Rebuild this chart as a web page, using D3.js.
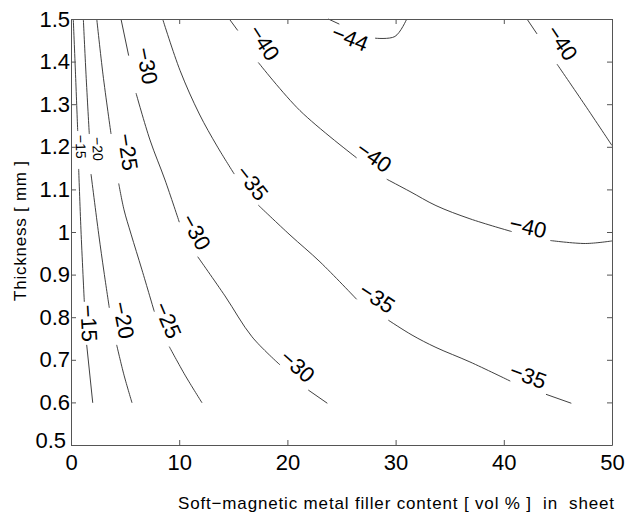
<!DOCTYPE html>
<html>
<head>
<meta charset="utf-8">
<script src="https://cdn.jsdelivr.net/npm/d3@7"></script>
<style>
  body { margin: 0; background: #fff; }
  svg { display: block; font-family: "Liberation Sans", Arial, sans-serif; }
</style>
</head>
<body>
<div class="canvas"></div>
<script>
// axis ticks
const xTicks = [0, 10, 20, 30, 40, 50];
const yTicks = [0.5, 0.6, 0.7, 0.8, 0.9, 1, 1.1, 1.2, 1.3, 1.4, 1.5];

// contour lines: each line is a list of pieces
// (broken where a label sits), points are [filler vol%, thickness mm]
const line15 = [
    [[0.21, 1.5], [0.42, 1.369], [0.62, 1.237]],
    [[0.71, 1.148], [0.92, 1.005], [1.23, 0.836]],
    [[1.45, 0.735], [2.01, 0.599]]
];
const line20 = [
    [[1.14, 1.5], [1.39, 1.369], [1.69, 1.23]],
    [[1.85, 1.136], [2.56, 0.995], [3.05, 0.906], [3.54, 0.822]],
    [[4.22, 0.735], [4.90, 0.664], [5.64, 0.599]]
];
const line25 = [
    [[2.38, 1.5], [2.96, 1.369], [3.70, 1.23]],
    [[4.41, 1.114], [4.90, 1.052], [5.55, 0.995], [6.56, 0.911], [7.70, 0.813]],
    [[9.08, 0.731], [10.54, 0.664], [12.11, 0.599]]
];
const line30 = [
    [[4.62, 1.5], [5.33, 1.414]],
    [[6.01, 1.326], [7.30, 1.216], [8.69, 1.122], [10.01, 1.023]],
    [[11.71, 0.942], [14.23, 0.850], [16.73, 0.754], [19.32, 0.688]],
    [[21.93, 0.629], [23.69, 0.598]]
];
const line35 = [
    [[8.47, 1.5], [10.08, 1.379], [11.86, 1.277], [13.49, 1.202], [15.09, 1.136]],
    [[17.31, 1.063], [20.24, 0.993], [23.01, 0.930], [26.40, 0.842]],
    [[29.33, 0.793], [31.52, 0.758], [33.73, 0.729], [36.87, 0.695], [40.60, 0.650]],
    [[43.90, 0.619], [46.24, 0.598]]
];
const line40a = [
    [[14.63, 1.5], [15.41, 1.473]],
    [[17.31, 1.398], [21.16, 1.285], [26.40, 1.174]],
    [[29.18, 1.124], [31.33, 1.095], [33.73, 1.062], [36.87, 1.031], [40.73, 1.001]],
    [[44.30, 0.980], [47.53, 0.973], [50, 0.979]]
];
const line40b = [
    [[42.14, 1.5], [43.07, 1.465]],
    [[44.92, 1.394], [47.50, 1.298], [50, 1.203]]
];
const line44 = [
    [[23.78, 1.5], [24.80, 1.488]],
    [[28.10, 1.455], [29.94, 1.459], [31.03, 1.5]]
];

// label centres, one per break in the line
const labels15 = [[0.92, 1.20], [1.64, 0.786]];
const labels20 = [[2.47, 1.195], [4.85, 0.793]];
const labels25 = [[5.24, 1.188], [8.94, 0.793]];
const labels30 = [[7.02, 1.39], [11.55, 1.0], [20.93, 0.685]];
const labels35 = [[16.73, 1.115], [28.28, 0.845], [42.24, 0.662]];
const labels40a = [[17.84, 1.444], [28.0, 1.176], [42.24, 1.012]];
const labels40b = [[45.38, 1.444]];
const labels44 = [[25.79, 1.455]];

const contours = [
    {level: -15, pieces: line15, labels: labels15},
    {level: -20, pieces: line20, labels: labels20},
    {level: -25, pieces: line25, labels: labels25},
    {level: -30, pieces: line30, labels: labels30},
    {level: -35, pieces: line35, labels: labels35},
    {level: -40, pieces: line40a, labels: labels40a},
    {level: -40, pieces: line40b, labels: labels40b},
    {level: -44, pieces: line44, labels: labels44}
];

const width = 635, height = 520;
const margin = {top: 19, right: 23, bottom: 75, left: 71};

const svg = d3.select('.canvas')
    .append('svg')
    .attr('width', width)
    .attr('height', height);

const x = d3.scaleLinear().domain([0, 50]).range([margin.left, width - margin.right]);
const y = d3.scaleLinear().domain([0.5, 1.5]).range([height - margin.bottom, margin.top]);

const lineGen = d3.line()
    .x(d => x(d[0]))
    .y(d => y(d[1]))
    .curve(d3.curveCatmullRom);

// contour pieces
const plot = svg.append('g');
contours.forEach(c => {
    plot.selectAll(null)
        .data(c.pieces)
        .enter().append('path')
        .attr('d', lineGen)
        .attr('fill', 'none')
        .attr('stroke', '#2a2a2a')
        .attr('stroke-width', 0.9);

    // labels, turned along the break they sit in
    c.labels.forEach((p, i) => {
        const a = c.pieces[i][c.pieces[i].length - 1];
        const b = c.pieces[i + 1][0];
        const ang = Math.atan2(y(b[1]) - y(a[1]), x(b[0]) - x(a[0])) * 180 / Math.PI;
        const small = c.level > -25 && p[1] > 1.1;
        plot.append('text')
            .attr('transform', `translate(${x(p[0])},${y(p[1])}) rotate(${ang})`)
            .attr('text-anchor', 'middle')
            .attr('dominant-baseline', 'central')
            .attr('font-size', small ? 14 : 22)
            .text('\u2212' + Math.abs(c.level));
    });
});

// axes, ticks inside on all four sides
const axisColor = '#555';
const xAxisGroup = svg.append('g').attr('transform', `translate(0,${y(0.5)})`)
    .call(d3.axisBottom(x).tickValues(xTicks).tickSizeInner(-5).tickSizeOuter(0).tickPadding(9));
const yAxisGroup = svg.append('g').attr('transform', `translate(${x(0)},0)`)
    .call(d3.axisLeft(y).tickValues(yTicks).tickSizeInner(-5).tickSizeOuter(0).tickPadding(1)
        .tickFormat(d => d3.format('')(d)));
svg.append('g').attr('transform', `translate(0,${y(1.5)})`)
    .call(d3.axisTop(x).tickValues(xTicks).tickSizeInner(-5).tickSizeOuter(0).tickFormat(''));
svg.append('g').attr('transform', `translate(${x(50)},0)`)
    .call(d3.axisRight(y).tickValues(yTicks).tickSizeInner(-5).tickSizeOuter(0).tickFormat(''));

svg.selectAll('.domain, .tick line').attr('stroke', axisColor);
svg.selectAll('.tick text')
    .attr('font-size', 22)
    .attr('font-family', '"Liberation Sans", Arial, sans-serif')
    .attr('fill', '#000');

// the corner labels nearly touch in the original; nudge 0.5 clear of 0
yAxisGroup.selectAll('.tick text').filter(d => d === 0.5)
    .attr('dx', -4).attr('dy', '0.1em');

// axis titles
svg.append('text')
    .attr('x', 614).attr('y', 509)
    .attr('text-anchor', 'end')
    .attr('font-size', 17)
    .attr('textLength', 436)
    .attr('lengthAdjust', 'spacing')
    .style('white-space', 'pre')
    .text('Soft\u2212magnetic metal filler content [ vol % ]  in  sheet');

svg.append('text')
    .attr('transform', 'translate(26,231) rotate(-90)')
    .attr('text-anchor', 'middle')
    .attr('font-size', 17)
    .attr('textLength', 140)
    .attr('lengthAdjust', 'spacing')
    .style('white-space', 'pre')
    .text('Thickness [ mm ]');
</script>
</body>
</html>
